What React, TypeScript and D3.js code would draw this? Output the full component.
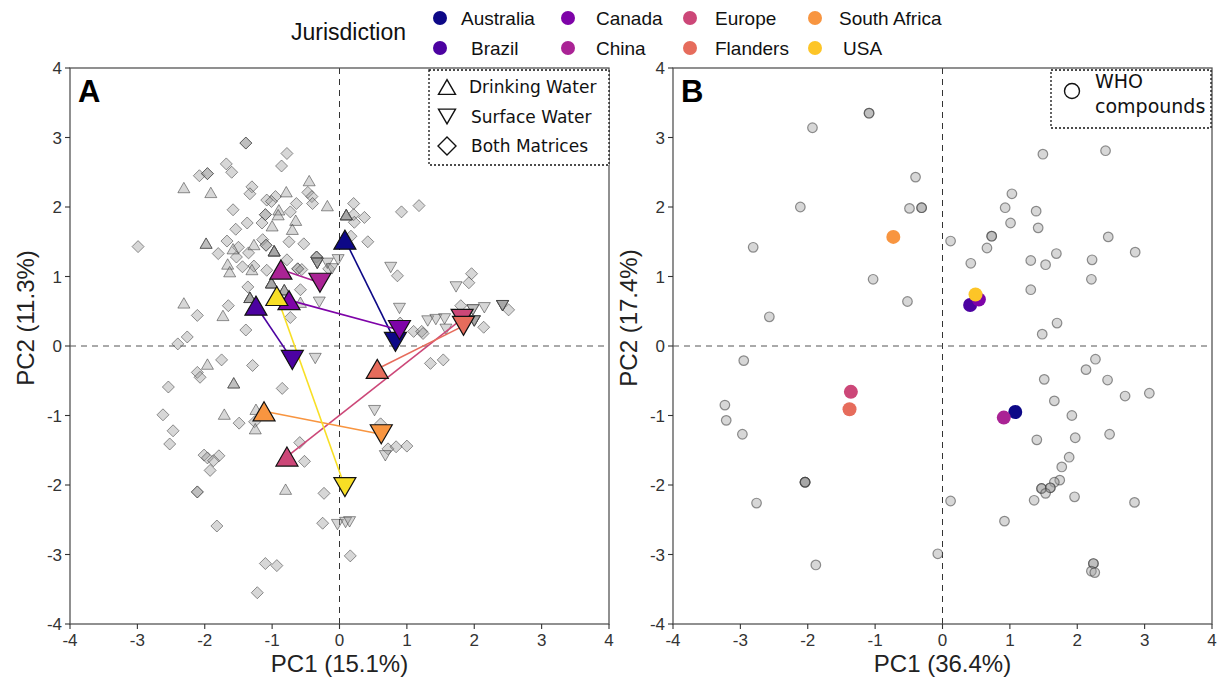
import React from "react";
import * as d3 from "d3";

// ---------- data ----------
const jurisdictions = ["Australia", "Brazil", "Canada", "China", "Europe", "Flanders", "South Africa", "USA"];
// Panel A: jurisdiction centroids, Drinking Water (DW) and Surface Water (SW)
const dwPC1 = [0.08, -1.24, -0.75, -0.87, -0.78, 0.56, -1.12, -0.93];
const dwPC2 = [1.53, 0.58, 0.66, 1.1, -1.59, -0.33, -0.94, 0.72];
const swPC1 = [0.83, -0.7, 0.89, -0.29, 1.82, 1.84, 0.62, 0.08];
const swPC2 = [0.06, -0.2, 0.23, 0.91, 0.39, 0.29, -1.27, -2.03];
// Panel B: jurisdiction positions (WHO compounds)
const whoJurPC1 = [1.08, 0.41, 0.54, 0.91, -1.36, -1.38, -0.73, 0.49];
const whoJurPC2 = [-0.95, 0.59, 0.67, -1.03, -0.66, -0.91, 1.57, 0.74];

// Panel A compounds: [PC1, PC2, overlapping count]
const drinkingWater: number[][] = [
  [-2.31, 2.28, 1], [-1.91, 2.21, 1], [-0.45, 2.38, 1], [-0.79, 2.22, 1], [-0.18, 2.02, 1],
  [-0.9, 1.96, 1], [-0.91, 1.89, 1], [-1.0, 1.73, 1], [-0.65, 1.81, 1], [-0.7, 1.68, 1],
  [-1.98, 1.48, 2], [-1.58, 1.4, 1], [-1.27, 1.46, 1], [-0.97, 1.37, 4], [-1.66, 1.18, 1],
  [-1.63, 1.07, 1], [-1.3, 1.1, 1], [-1.01, 0.91, 4], [-0.82, 0.81, 3], [-1.33, 0.7, 4],
  [-0.58, 0.63, 1], [-2.31, 0.62, 1], [-1.73, 0.44, 1], [0.1, 1.89, 4], [-1.96, -0.26, 1],
  [-1.57, -0.53, 2], [-1.71, -0.98, 1], [-1.24, -0.91, 1], [-1.25, -1.19, 1], [-0.8, -2.06, 1],
  [0.6, -0.39, 4],
];
const surfaceWater: number[][] = [
  [-0.33, 1.19, 4], [-0.18, 1.19, 1], [-0.11, 1.11, 1], [-0.02, 1.24, 1], [-0.3, 0.63, 1],
  [0.76, 1.13, 1], [0.89, 0.54, 1], [1.73, 0.85, 1], [1.98, 0.52, 2], [2.15, 0.55, 1],
  [2.0, 0.36, 4], [2.42, 0.58, 4], [1.31, 0.36, 1], [1.43, 0.38, 1], [1.56, 0.39, 1],
  [1.58, 0.24, 1], [-0.36, -0.18, 1], [-0.73, -0.2, 4], [0.52, -0.93, 1], [0.68, -1.58, 1],
  [-0.03, -2.57, 1], [0.09, -2.54, 1], [0.15, -2.53, 1],
];
const bothMatrices: number[][] = [
  [-1.39, 2.92, 2], [-0.78, 2.77, 1], [-0.86, 2.59, 1], [-1.68, 2.62, 1], [-1.6, 2.5, 1],
  [-2.08, 2.45, 1], [-1.96, 2.48, 2], [-1.3, 2.29, 1], [-1.33, 2.19, 1], [-0.47, 2.21, 1],
  [-0.41, 2.15, 1], [-0.4, 2.05, 1], [-0.95, 2.15, 1], [-1.08, 2.1, 1], [-1.01, 2.08, 1],
  [-0.64, 2.05, 1], [-1.58, 1.96, 1], [-1.1, 1.89, 2], [-0.73, 1.93, 1], [-1.37, 1.77, 1],
  [-1.15, 1.77, 1], [-1.54, 1.68, 1], [-2.99, 1.43, 1], [-1.67, 1.51, 1], [-1.8, 1.33, 1],
  [-1.5, 1.42, 1], [-1.14, 1.53, 1], [-1.09, 1.45, 2], [-0.75, 1.5, 1], [-0.53, 1.47, 1],
  [-1.53, 1.28, 1], [-1.35, 1.34, 1], [-1.44, 1.14, 1], [-1.27, 1.15, 1], [-1.08, 1.09, 1],
  [-0.78, 1.24, 1], [-0.62, 1.11, 2], [-0.56, 1.1, 1], [-0.34, 1.28, 3], [-0.16, 1.11, 1],
  [-1.36, 0.85, 1], [-0.58, 0.81, 1], [-1.65, 0.58, 1], [-2.11, 0.44, 1], [-0.73, 0.41, 1],
  [-1.39, 0.23, 1], [-2.26, 0.13, 1], [-2.4, 0.03, 1], [0.21, 2.05, 1], [0.21, 1.89, 1],
  [0.22, 1.78, 1], [0.37, 1.85, 1], [0.17, 1.58, 1], [0.42, 1.5, 1], [0.92, 1.93, 1],
  [1.18, 2.02, 1], [0.86, 1.01, 1], [1.96, 1.04, 1], [1.92, 0.91, 1], [1.8, 0.58, 1],
  [2.51, 0.52, 1], [2.14, 0.27, 1], [0.9, 0.33, 1], [1.1, 0.21, 1], [1.22, 0.21, 1],
  [1.24, 0.18, 1], [-1.75, -0.2, 1], [-1.29, -0.28, 1], [-2.11, -0.38, 1], [-2.07, -0.45, 1],
  [-2.54, -0.59, 1], [-0.85, -0.61, 1], [1.35, -0.25, 1], [1.54, -0.2, 1], [-2.62, -0.99, 1],
  [-1.49, -1.11, 1], [-1.26, -1.09, 1], [-2.47, -1.22, 1], [-2.52, -1.41, 1], [-0.59, -1.39, 1],
  [-0.52, -1.66, 1], [0.61, -1.12, 1], [0.72, -1.48, 1], [0.84, -1.45, 1], [1.0, -1.44, 1],
  [-2.01, -1.57, 1], [-1.96, -1.61, 1], [-1.79, -1.58, 1], [-1.87, -1.65, 1], [-1.92, -1.79, 1],
  [-2.11, -2.1, 2], [-0.23, -2.12, 1], [-1.82, -2.59, 1], [-0.25, -2.55, 1], [0.16, -3.02, 1],
  [-1.1, -3.13, 1], [-0.93, -3.16, 1], [-1.22, -3.55, 1],
];
// Panel B WHO compounds: [PC1, PC2, overlapping count]
const whoCompounds: number[][] = [
  [-1.09, 3.35, 2], [-1.93, 3.14, 1], [-0.4, 2.43, 1], [-2.11, 2.0, 1], [-0.49, 1.98, 1],
  [-0.31, 1.99, 2], [-2.81, 1.42, 1], [-1.03, 0.96, 1], [-0.52, 0.64, 1], [-2.57, 0.42, 1],
  [0.12, 1.51, 1], [0.42, 1.19, 1], [0.66, 1.41, 1], [0.73, 1.58, 2], [1.03, 2.19, 1],
  [0.93, 1.99, 1], [1.01, 1.77, 1], [1.49, 2.76, 1], [2.42, 2.81, 1], [1.39, 1.94, 1],
  [1.42, 1.7, 1], [2.46, 1.57, 1], [2.86, 1.35, 1], [1.69, 1.33, 1], [1.31, 1.23, 1],
  [1.53, 1.17, 1], [2.22, 1.24, 1], [2.21, 0.96, 1], [1.31, 0.81, 1], [1.7, 0.33, 1],
  [1.48, 0.17, 1], [-2.95, -0.21, 1], [2.27, -0.19, 1], [2.13, -0.34, 1], [1.51, -0.48, 1],
  [2.45, -0.49, 1], [2.71, -0.72, 1], [3.07, -0.68, 1], [1.66, -0.79, 1], [1.92, -1.0, 1],
  [2.48, -1.27, 1], [1.4, -1.35, 1], [1.97, -1.32, 1], [1.88, -1.6, 1], [1.77, -1.74, 1],
  [1.74, -1.93, 1], [1.66, -1.96, 1], [1.47, -2.05, 2], [1.6, -2.04, 2], [1.53, -2.12, 1],
  [1.36, -2.22, 1], [1.96, -2.17, 1], [2.85, -2.25, 1], [0.92, -2.52, 1], [0.12, -2.23, 1],
  [-0.07, -2.99, 1], [2.24, -3.13, 2], [2.21, -3.24, 1], [2.26, -3.26, 1], [-3.23, -0.85, 1],
  [-3.21, -1.07, 1], [-2.97, -1.27, 1], [-2.04, -1.96, 4], [-2.76, -2.26, 1], [-1.88, -3.15, 1],
];
const ticks = [-4, -3, -2, -1, 0, 1, 2, 3, 4];
const varA = { pc1: "PC1 (15.1%)", pc2: "PC2 (11.3%)" };
const varB = { pc1: "PC1 (36.4%)", pc2: "PC2 (17.4%)" };
const matrixLegend = ["Drinking Water", "Surface Water", "Both Matrices"];

// ---------- layout ----------
const W = 1223, H = 684;
const Y0 = 68, Y1 = 624;
const colors = jurisdictions.map((_, i) => d3.interpolatePlasma(i / 8));
const colorsA = jurisdictions.map((_, i) => d3.interpolatePlasma(i === 7 ? 0.94 : i / 8));
const sansTick = "'Liberation Sans', Arial, sans-serif";
const sansLegend = "'DejaVu Sans', sans-serif";

function triPath(s: number, down = false) {
  const h = (s * Math.sqrt(3)) / 2;
  const k = down ? -1 : 1;
  return `M0,${(-k * h) / 2}L${s / 2},${(k * h) / 2}L${-s / 2},${(k * h) / 2}Z`;
}
function diamondPath(r: number) {
  return `M0,${-r}L${r},0L0,${r}L${-r},0Z`;
}

const GREY_FILL = "#9a9a9a";
const GREY_FILL_OP = 0.4;
const GREY_STROKE = "#3a3a3a";
const GREY_STROKE_OP = 0.55;

function Frame({ x, y, label, pc }: any) {
  const [x0, x1] = x.range();
  return (
    <g>
      <line x1={x(0)} x2={x(0)} y1={Y0} y2={Y1} stroke="#333" strokeDasharray="6,5" strokeWidth={1} />
      <line x1={x0} x2={x1} y1={y(0)} y2={y(0)} stroke="#555" strokeDasharray="6,5" strokeWidth={1} />
      <rect x={x0} y={Y0} width={x1 - x0} height={Y1 - Y0} fill="none" stroke="#555" strokeWidth={1.3} />
      {ticks.map((t) => (
        <g key={"x" + t}>
          <line x1={x(t)} x2={x(t)} y1={Y1} y2={Y1 + 5} stroke="#333" strokeWidth={1.1} />
          <text x={x(t)} y={Y1 + 22} textAnchor="middle" fontFamily={sansTick} fontSize={17} fill="#333">
            {t}
          </text>
        </g>
      ))}
      {ticks.map((t) => (
        <g key={"y" + t}>
          <line x1={x0 - 5} x2={x0} y1={y(t)} y2={y(t)} stroke="#333" strokeWidth={1.1} />
          <text x={x0 - 8} y={y(t) + 6} textAnchor="end" fontFamily={sansTick} fontSize={17} fill="#333">
            {t}
          </text>
        </g>
      ))}
      <text x={(x0 + x1) / 2} y={672} textAnchor="middle" fontFamily={sansTick} fontSize={24} fill="#222">
        {pc.pc1}
      </text>
      <text
        transform={`translate(${x0 - 36},${318}) rotate(-90)`}
        textAnchor="middle"
        fontFamily={sansTick}
        fontSize={24}
        fill="#222"
      >
        {pc.pc2}
      </text>
      <text x={x0 + 8} y={102} fontFamily={sansTick} fontWeight="bold" fontSize={31} fill="#000">
        {label}
      </text>
    </g>
  );
}

function Grey({ data, path, x, y }: any) {
  const out: any[] = [];
  data.forEach((d: number[], i: number) => {
    for (let k = 0; k < d[2]; k++) {
      out.push(
        <path
          key={i + "-" + k}
          d={path}
          transform={`translate(${x(d[0])},${y(d[1])})`}
          fill={GREY_FILL}
          fillOpacity={GREY_FILL_OP}
          stroke={GREY_STROKE}
          strokeOpacity={GREY_STROKE_OP}
          strokeWidth={1}
        />
      );
    }
  });
  return <g>{out}</g>;
}

export default function App() {
  const xA = d3.scaleLinear().domain([-4, 4]).range([70, 609]);
  const xB = d3.scaleLinear().domain([-4, 4]).range([673, 1212]);
  const y = d3.scaleLinear().domain([-4, 4]).range([Y1, Y0]);

  const legendCols = [440, 568, 690, 815];
  const legendTextX = [461, 471, 596, 596, 715, 715, 839, 843];

  return (
    <svg width={W} height={H} style={{ position: "absolute", left: 0, top: 0, background: "#fff" }}>
      {/* Top legend */}
      <text x={291} y={40} fontFamily={sansTick} fontSize={23} fill="#111">
        Jurisdiction
      </text>
      {jurisdictions.map((j, i) => {
        const col = Math.floor(i / 2);
        const row = i % 2;
        const cy = row === 0 ? 18 : 48;
        return (
          <g key={j}>
            <circle cx={legendCols[col]} cy={cy} r={7} fill={colors[i]} />
            <text x={legendTextX[i]} y={cy + 7} fontFamily={sansTick} fontSize={19} fill="#111">
              {j}
            </text>
          </g>
        );
      })}

      {/* Panel A */}
      <Frame x={xA} y={y} label="A" pc={varA} />
      <Grey data={bothMatrices} path={diamondPath(6)} x={xA} y={y} />
      <Grey data={drinkingWater} path={triPath(12)} x={xA} y={y} />
      <Grey data={surfaceWater} path={triPath(12, true)} x={xA} y={y} />
      {jurisdictions.map((j, i) => (
        <line
          key={"l" + j}
          x1={xA(dwPC1[i])}
          y1={y(dwPC2[i])}
          x2={xA(swPC1[i])}
          y2={y(swPC2[i])}
          stroke={colorsA[i]}
          strokeWidth={1.6}
        />
      ))}
      {jurisdictions.map((j, i) => (
        <g key={"m" + j}>
          <path
            d={triPath(22)}
            transform={`translate(${xA(dwPC1[i])},${y(dwPC2[i])})`}
            fill={colorsA[i]}
            stroke="#111"
            strokeWidth={1.2}
          />
          <path
            d={triPath(22, true)}
            transform={`translate(${xA(swPC1[i])},${y(swPC2[i])})`}
            fill={colorsA[i]}
            stroke="#111"
            strokeWidth={1.2}
          />
        </g>
      ))}
      {/* Legend A */}
      <rect x={429} y={70} width={180} height={95} fill="#fff" stroke="#111" strokeDasharray="2,2" strokeWidth={1.3} />
      {matrixLegend.map((m, i) => {
        const cy = 87 + i * 29.5;
        const p = i === 0 ? triPath(17) : i === 1 ? triPath(17, true) : diamondPath(9);
        return (
          <g key={m}>
            <path d={p} transform={`translate(447,${cy})`} fill="none" stroke="#111" strokeWidth={1.4} />
            <text x={i === 0 ? 469 : 471} y={cy + 6} fontFamily={sansLegend} fontSize={17} fill="#111">
              {m}
            </text>
          </g>
        );
      })}

      {/* Panel B */}
      <Frame x={xB} y={y} label="B" pc={varB} />
      {whoCompounds.map((d, i) => {
        const out: any[] = [];
        for (let k = 0; k < d[2]; k++)
          out.push(
            <circle
              key={i + "-" + k}
              cx={xB(d[0])}
              cy={y(d[1])}
              r={4.8}
              fill={GREY_FILL}
              fillOpacity={GREY_FILL_OP}
              stroke={GREY_STROKE}
              strokeOpacity={GREY_STROKE_OP}
              strokeWidth={1.2}
            />
          );
        return <g key={i}>{out}</g>;
      })}
      {jurisdictions.map((j, i) => (
        <circle key={"b" + j} cx={xB(whoJurPC1[i])} cy={y(whoJurPC2[i])} r={7} fill={colors[i]} />
      ))}
      <rect x={1051} y={70} width={160} height={58} fill="#fff" stroke="#111" strokeDasharray="2,2" strokeWidth={1.3} />
      <circle cx={1072} cy={91} r={7.5} fill="none" stroke="#111" strokeWidth={1.4} />
      <text x={1095} y={88} fontFamily={sansLegend} fontSize={19} fill="#111">
        WHO
      </text>
      <text x={1095} y={113} fontFamily={sansLegend} fontSize={19} fill="#111">
        compounds
      </text>
    </svg>
  );
}
